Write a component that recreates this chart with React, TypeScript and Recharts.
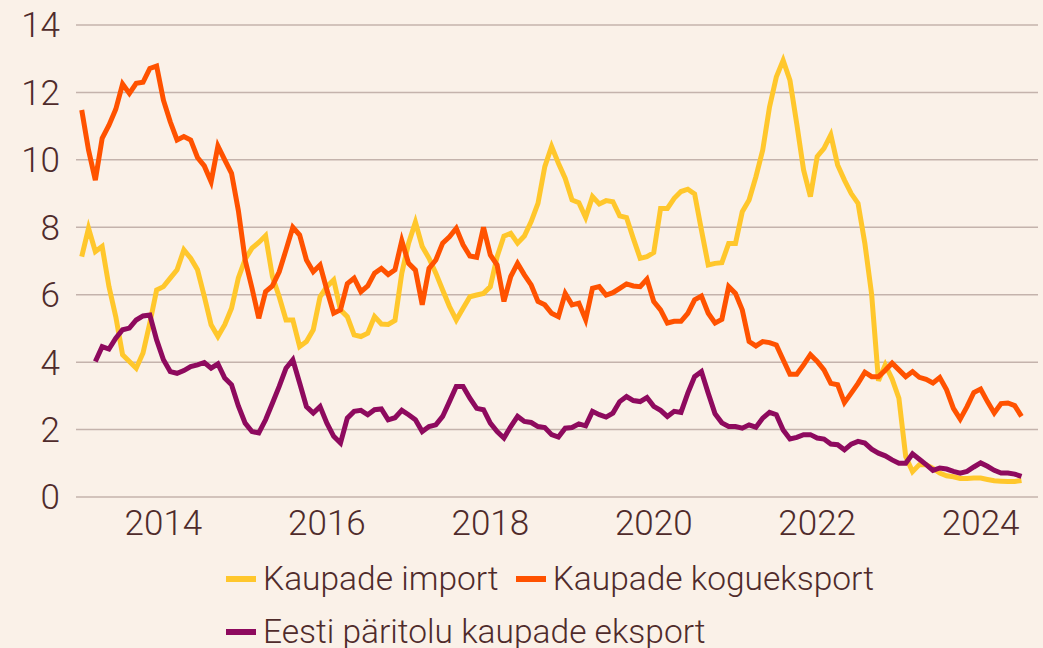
import { LineChart, Line, XAxis, YAxis, CartesianGrid, Legend } from "recharts";

const START_YEAR = 2013; // first point = Jan 2013, monthly

// Kaupade import, one value per month (Jan 2013 – Jul 2024)
const importValues = [
  7.13, 7.97, 7.28, 7.43, 6.24, 5.35, 4.22, 4.02, 3.82, 4.27, 5.16, 6.14,
  6.24, 6.49, 6.74, 7.33, 7.08, 6.74, 5.95, 5.11, 4.76, 5.11, 5.6, 6.5,
  7.05, 7.38, 7.55, 7.75, 6.54, 5.94, 5.25, 5.25, 4.46, 4.61, 4.96, 5.94,
  6.24, 6.44, 5.55, 5.35, 4.81, 4.76, 4.86, 5.35, 5.13, 5.12, 5.24, 6.64,
  7.53, 8.15, 7.43, 7.08, 6.64, 6.14, 5.65, 5.25, 5.6, 5.94, 5.99, 6.04,
  6.24, 7.13, 7.74, 7.82, 7.53, 7.74, 8.17, 8.71, 9.8, 10.4, 9.9, 9.45,
  8.81, 8.73, 8.29, 8.91, 8.69, 8.79, 8.76, 8.34, 8.29, 7.67, 7.08, 7.13,
  7.25, 8.56, 8.56, 8.86, 9.06, 9.13, 8.99, 7.92, 6.88, 6.93, 6.95, 7.52,
  7.52, 8.46, 8.81, 9.5, 10.29, 11.57, 12.46, 12.95, 12.36, 11.07, 9.7, 8.91,
  10.1, 10.34, 10.74, 9.85, 9.4, 9.0, 8.71, 7.52, 6.0, 3.45, 3.92, 3.5,
  2.93, 1.2, 0.75, 0.96, 0.96, 0.85, 0.71, 0.63, 0.6, 0.55, 0.55, 0.56,
  0.56, 0.52, 0.48, 0.47, 0.46, 0.46, 0.49,
];

// Kaupade kogueksport
const totalExportValues = [
  11.48, 10.29, 9.4, 10.64, 11.03, 11.5, 12.25, 11.97, 12.27, 12.3, 12.71, 12.78,
  11.77, 11.13, 10.59, 10.69, 10.59, 10.07, 9.82, 9.35, 10.41, 10.0, 9.6, 8.5,
  7.03, 6.2, 5.3, 6.09, 6.26, 6.68, 7.33, 8.0, 7.77, 7.03, 6.68, 6.88,
  6.14, 5.45, 5.55, 6.33, 6.49, 6.09, 6.26, 6.64, 6.78, 6.6, 6.74, 7.6,
  6.93, 6.73, 5.7, 6.78, 7.03, 7.53, 7.72, 7.97, 7.48, 7.15, 7.11, 8.0,
  7.18, 6.88, 5.8, 6.54, 6.93, 6.59, 6.29, 5.8, 5.7, 5.45, 5.35, 6.04,
  5.7, 5.75, 5.26, 6.19, 6.24, 5.99, 6.06, 6.19, 6.32, 6.26, 6.24, 6.46,
  5.8, 5.55, 5.16, 5.21, 5.21, 5.45, 5.85, 5.96, 5.45, 5.16, 5.27, 6.24,
  6.04, 5.55, 4.61, 4.48, 4.61, 4.58, 4.51, 4.07, 3.64, 3.64, 3.92, 4.22,
  4.02, 3.77, 3.37, 3.33, 2.8, 3.08, 3.37, 3.7, 3.57, 3.57, 3.76, 3.97,
  3.77, 3.57, 3.72, 3.55, 3.49, 3.38, 3.54, 3.18, 2.63, 2.31, 2.68, 3.1,
  3.2, 2.83, 2.49, 2.77, 2.79, 2.71, 2.39,
];

// Eesti päritolu kaupade eksport (starts Mar 2013)
const estonianExportValues = [
  null, null, 4.02, 4.46, 4.39, 4.71, 4.96, 5.01, 5.25, 5.37, 5.4, 4.66,
  4.07, 3.72, 3.67, 3.75, 3.87, 3.92, 3.99, 3.82, 3.95, 3.53, 3.33, 2.7,
  2.19, 1.94, 1.9, 2.29, 2.78, 3.28, 3.82, 4.07, 3.38, 2.68, 2.49, 2.68,
  2.19, 1.8, 1.6, 2.34, 2.54, 2.57, 2.44, 2.59, 2.61, 2.29, 2.35, 2.57,
  2.44, 2.29, 1.94, 2.09, 2.14, 2.39, 2.83, 3.28, 3.28, 2.93, 2.63, 2.59,
  2.19, 1.94, 1.75, 2.09, 2.39, 2.24, 2.21, 2.09, 2.06, 1.85, 1.78, 2.04,
  2.06, 2.17, 2.11, 2.54, 2.44, 2.37, 2.49, 2.83, 2.98, 2.86, 2.83, 2.95,
  2.69, 2.57, 2.39, 2.54, 2.51, 3.08, 3.57, 3.72, 3.08, 2.47, 2.2, 2.09,
  2.09, 2.04, 2.14, 2.07, 2.34, 2.51, 2.44, 1.99, 1.72, 1.77, 1.85, 1.85,
  1.75, 1.72, 1.57, 1.55, 1.4, 1.57, 1.65, 1.6, 1.42, 1.3, 1.22, 1.1,
  1.0, 1.0, 1.28, 1.12, 0.96, 0.79, 0.86, 0.83, 0.76, 0.71, 0.76, 0.89,
  1.01, 0.91, 0.79, 0.71, 0.71, 0.68, 0.61,
];

const yearTicks = [2014, 2016, 2018, 2020, 2022, 2024];
const valueTicks = [0, 2, 4, 6, 8, 10, 12, 14];

const series = [
  { key: "imp", name: "Kaupade import", color: "#ffc72c" },
  { key: "total", name: "Kaupade kogueksport", color: "#ff5200" },
  { key: "est", name: "Eesti päritolu kaupade eksport", color: "#8e0a5e" },
];

const data = importValues.map((v, i) => ({
  t: START_YEAR + i / 12,
  imp: v,
  total: totalExportValues[i],
  est: estonianExportValues[i],
}));

const BG = "#faf1e8";
const TEXT = "#4f2b2b";
const FONT = "Roboto, sans-serif";

const tickStyle = { fontSize: 35, fill: TEXT, fontFamily: FONT, fontWeight: 300 };

function LegendItem({ name, color }: { name: string; color: string }) {
  return (
    <span style={{ display: "inline-flex", alignItems: "center", marginRight: 17 }}>
      <span style={{ display: "inline-block", width: 30, height: 6, background: color, marginRight: 7 }} />
      {name}
    </span>
  );
}

function LegendRows() {
  const row = { height: 40, display: "flex", alignItems: "center", lineHeight: "40px" };
  // padding (not child margins) so the box stays exactly 110px tall
  return (
    <div
      style={{
        height: 110,
        paddingLeft: 226,
        paddingTop: 21,
        boxSizing: "border-box",
        overflow: "hidden",
        fontFamily: FONT,
        fontSize: 33.5,
        fontWeight: 300,
        color: TEXT,
      }}
    >
      <div style={row}>
        <LegendItem name={series[0].name} color={series[0].color} />
        <LegendItem name={series[1].name} color={series[1].color} />
      </div>
      <div style={{ ...row, marginTop: 13 }}>
        <LegendItem name={series[2].name} color={series[2].color} />
      </div>
    </div>
  );
}

export default function App() {
  return (
    <div style={{ position: "absolute", left: 0, top: 0, width: 1043, height: 648, background: BG }}>
      <LineChart width={1043} height={648} data={data} margin={{ top: 25, right: 5, bottom: 0, left: 0 }}>
        <CartesianGrid vertical={false} stroke="#c4b3ac" strokeWidth={1.5} />
        <XAxis
          dataKey="t"
          type="number"
          domain={[2012.93, 2024.702]}
          allowDataOverflow
          ticks={yearTicks}
          interval={0}
          height={41}
          axisLine={false}
          tickLine={false}
          tickSize={0}
          tickMargin={13}
          tick={tickStyle}
        />
        <YAxis
          domain={[0, 14]}
          ticks={valueTicks}
          interval={0}
          width={76}
          axisLine={false}
          tickLine={false}
          tickSize={0}
          tickMargin={16}
          tick={tickStyle}
        />
        <Legend verticalAlign="bottom" align="left" wrapperStyle={{ left: 0, bottom: 0 }} content={() => <LegendRows />} />
        {series.map((s) => (
          <Line
            key={s.key}
            dataKey={s.key}
            name={s.name}
            type="linear"
            stroke={s.color}
            strokeWidth={5}
            dot={false}
            activeDot={false}
            isAnimationActive={false}
          />
        ))}
      </LineChart>
    </div>
  );
}
